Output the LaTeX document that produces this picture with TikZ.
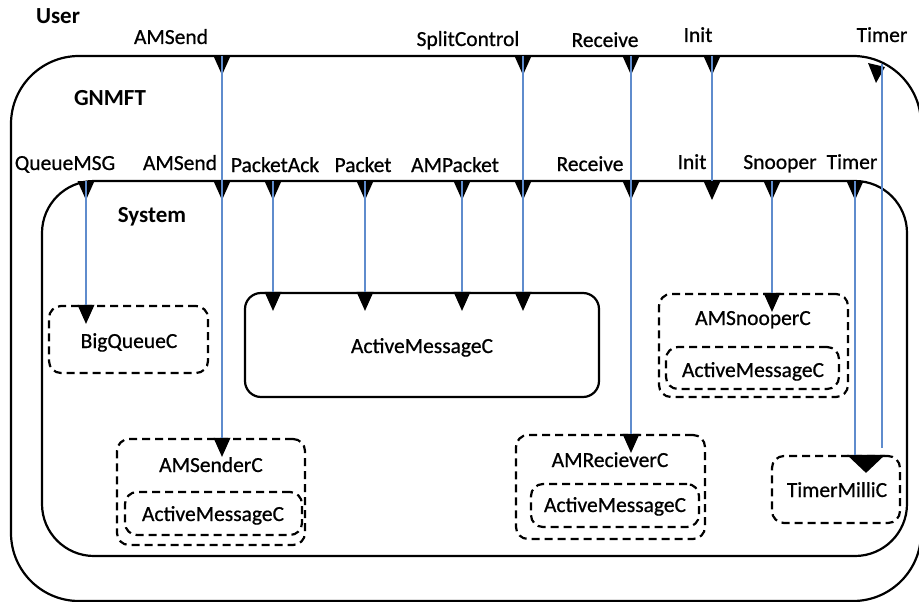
\documentclass[tikz,border=0pt]{standalone}
\usepackage{fontspec}
\setmainfont{Carlito}
\newfontfamily\lblfont[FakeBold=0.7]{Carlito}
\usetikzlibrary{fit}
\definecolor{wireblue}{RGB}{95,140,205}
\begin{document}
\begin{tikzpicture}[x=1pt,y=-1pt,
  frame/.style={draw, line width=2.2pt, inner sep=0pt},
  dbox/.style={draw, line width=2.2pt, dash pattern=on 8pt off 5pt, rounded corners=12pt, inner sep=0pt},
  sbox/.style={draw, line width=2.2pt, rounded corners=16pt, inner sep=0pt},
  wire/.style={draw=wireblue, line width=1.2pt},
  lbl/.style={anchor=base, inner sep=0pt, font=\lblfont\fontsize{21.5}{25}\selectfont},
  ttl/.style={anchor=base, inner sep=0pt, font=\fontsize{23}{27}\selectfont\bfseries},
  tri/.pic={\fill[black] (-8.5,0) -- (8.5,0) -- (0,19) -- cycle;},
  bigtri/.pic={\fill[black] (-19,0) -- (19,0) -- (0,18) -- cycle;}
]
\useasboundingbox (0,0) rectangle (919,602);

% containers
\node[frame, rounded corners=68pt, fit={(11,56)(921,601)}] (gnmft) {};
\node[frame, rounded corners=52pt, fit={(42,181)(907,556)}] (system) {};

% component boxes
\node[dbox, fit={(49,306)(208,373)}] (bq) {};
\node[sbox, fit={(245,293)(599,397)}] (am) {};
\node[dbox, fit={(117,439)(305,545)}] (amsC) {};
\node[dbox, fit={(125,492)(302,535)}] (amsI) {};
\node[dbox, fit={(516,435)(705,539)}] (amrC) {};
\node[dbox, fit={(531,484)(699,527)}] (amrI) {};
\node[dbox, fit={(659,294)(848,397)}] (ansC) {};
\node[dbox, fit={(666,347)(839,389)}] (ansI) {};
\node[dbox, fit={(772,456)(900,523)}] (tm) {};

% titles
\node[ttl] (tUser) at (58,24) {User};
\node[ttl] (tGnmft) at (110,106) {GNMFT};
\node[ttl] (tSystem) at (152,222) {System};

% box texts
\node[lbl] (xbq) at (129,348) {BigQueueC};
\node[lbl] (xam) at (422,353) {ActiveMessageC};
\node[lbl] (xamsC) at (211,472) {AMSenderC};
\node[lbl] (xamsI) at (213,521) {ActiveMessageC};
\node[lbl] (xamrC) at (610,467) {AMRecieverC};
\node[lbl] (xamrI) at (615,512) {ActiveMessageC};
\node[lbl] (xansC) at (753,325) {AMSnooperC};
\node[lbl] (xansI) at (753,377) {ActiveMessageC};
\node[lbl] (xtm) at (837,497) {TimerMilliC};

% outer port labels
\node[lbl] (lo1) at (171,44) {AMSend};
\node[lbl] (lo2) at (468,46) {SplitControl};
\node[lbl] (lo3) at (605,47) {Receive};
\node[lbl] (lo4) at (698,42) {Init};
\node[lbl] (lo5) at (882,42) {Timer};

% inner port labels
\node[lbl] (li1) at (65,170) {QueueMSG};
\node[lbl] (li2) at (180,170) {AMSend};
\node[lbl] (li3) at (275,172) {PacketAck};
\node[lbl] (li4) at (363,172) {Packet};
\node[lbl] (li5) at (455,172) {AMPacket};
\node[lbl] (li6) at (590,171) {Receive};
\node[lbl] (li7) at (692,169) {Init};
\node[lbl] (li8) at (780,169) {Snooper};
\node[lbl] (li9) at (852,169) {Timer};

% port coordinates
\coordinate (oAMSend) at (222,56);
\coordinate (oSplit) at (523,56);
\coordinate (oRecv) at (631,56);
\coordinate (oInit) at (712,56);
\coordinate (oTimer) at (877,63);
\coordinate (oTimerW) at (882,64);
\coordinate (iQueue) at (86,181);
\coordinate (iAMSend) at (222,181);
\coordinate (iPAck) at (273,181);
\coordinate (iPacket) at (365,181);
\coordinate (iAMPacket) at (462,181);
\coordinate (iSplit) at (523,181);
\coordinate (iRecv) at (631,181);
\coordinate (iInit) at (712,181);
\coordinate (iSnoop) at (772,181);
\coordinate (iTimer) at (855,181);
\coordinate (tmIn) at (866,456);

% port triangles
\foreach \p in {oAMSend,oSplit,oRecv,oInit,iQueue,iAMSend,iPAck,iPacket,iAMPacket,iSplit,iRecv,iInit,iSnoop,iTimer}
  \pic at (\p) {tri};
\fill[black] ([shift={(-9,0)}]oTimer) -- ([shift={(8,4)}]oTimer) -- ([shift={(-1,20)}]oTimer) -- cycle;
\pic at (iQueue |- bq.north) {tri};
\pic at (iPAck |- am.north) {tri};
\pic at (iPacket |- am.north) {tri};
\pic at (iAMPacket |- am.north) {tri};
\pic at (iSplit |- am.north) {tri};
\pic at (oAMSend |- amsC.north) {tri};
\pic at (oRecv |- amrC.north) {tri};
\pic at (iSnoop |- ansC.north) {tri};
\pic at (tmIn |- tm.north) {bigtri};

% wires
\draw[wire] (oAMSend) -- (oAMSend |- amsC.north);
\draw[wire] (oSplit) -- (oSplit |- am.north);
\draw[wire] (oRecv) -- (oRecv |- amrC.north);
\draw[wire] (oInit) -- (iInit);
\draw[wire] (oTimerW) -- ([yshift=7pt]oTimerW |- tm.north);
\draw[wire] (iQueue) -- (iQueue |- bq.north);
\draw[wire] (iPAck) -- (iPAck |- am.north);
\draw[wire] (iPacket) -- (iPacket |- am.north);
\draw[wire] (iAMPacket) -- (iAMPacket |- am.north);
\draw[wire] (iSnoop) -- (iSnoop |- ansC.north);
\draw[wire] (iTimer) -- (iTimer |- tm.north);
\end{tikzpicture}
\end{document}
